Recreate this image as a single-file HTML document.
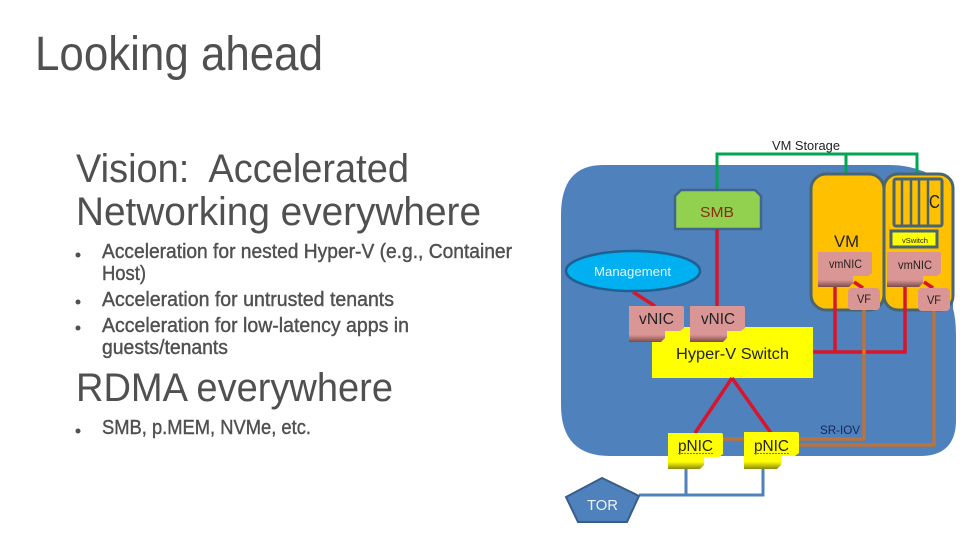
<!DOCTYPE html>
<html>
<head>
<meta charset="utf-8">
<style>
html,body{margin:0;padding:0;background:#fff;width:979px;height:551px;overflow:hidden}
svg{display:block}
text{font-family:"Liberation Sans",sans-serif}
.h{fill:#505050}
.b{fill:#505050;font-size:20px;stroke:#505050;stroke-width:.4}
.d{fill:#222}
</style>
</head>
<body>
<svg width="979" height="551" viewBox="0 0 979 551" xmlns="http://www.w3.org/2000/svg">
<defs>
<linearGradient id="pk" x1="0" y1="0" x2="0" y2="1">
<stop offset="0" stop-color="#d99694"/><stop offset=".8" stop-color="#d99694"/><stop offset="1" stop-color="#7d4a48"/>
</linearGradient>
<linearGradient id="yl" x1="0" y1="0" x2="0" y2="1">
<stop offset="0" stop-color="#ffff00"/><stop offset=".8" stop-color="#ffff00"/><stop offset="1" stop-color="#8a8a10"/>
</linearGradient>
</defs>

<!-- left text -->
<text class="h" x="35" y="70" font-size="48" textLength="288" lengthAdjust="spacingAndGlyphs">Looking ahead</text>
<text class="h" x="76" y="182" font-size="40" textLength="333" lengthAdjust="spacingAndGlyphs" xml:space="preserve">Vision:  Accelerated</text>
<text class="h" x="76" y="225" font-size="40" textLength="405" lengthAdjust="spacingAndGlyphs">Networking everywhere</text>
<text class="b" x="102" y="258" textLength="410" lengthAdjust="spacingAndGlyphs">Acceleration for nested Hyper-V (e.g., Container</text>
<text class="b" x="102" y="280" textLength="44" lengthAdjust="spacingAndGlyphs">Host)</text>
<text class="b" x="102" y="306" textLength="292" lengthAdjust="spacingAndGlyphs">Acceleration for untrusted tenants</text>
<text class="b" x="102" y="332" textLength="307" lengthAdjust="spacingAndGlyphs">Acceleration for low-latency apps in</text>
<text class="b" x="102" y="354" textLength="126" lengthAdjust="spacingAndGlyphs">guests/tenants</text>
<text class="h" x="76" y="401" font-size="40" textLength="317" lengthAdjust="spacingAndGlyphs">RDMA everywhere</text>
<text class="b" x="102" y="434" textLength="209" lengthAdjust="spacingAndGlyphs">SMB, p.MEM, NVMe, etc.</text>
<circle cx="78" cy="255" r="2.5" fill="#505050"/>
<circle cx="78" cy="302" r="2.5" fill="#505050"/>
<circle cx="78" cy="328" r="2.5" fill="#505050"/>
<circle cx="78" cy="431" r="2.5" fill="#505050"/>

<!-- host background -->
<path d="M603,165 H890 Q925,165 953,190 V308 Q956,320 956,335 V420 Q956,456 920,456 H610 Q561,456 561,405 V215 Q561,165 603,165 Z" fill="#4f81bd"/>

<!-- green links -->
<g fill="none" stroke="#00a651" stroke-width="3">
<path d="M717,190 V154 H917 V173"/>
<path d="M846,154 V173"/>
</g>
<text class="d" x="772" y="150" font-size="13" textLength="68" lengthAdjust="spacingAndGlyphs">VM Storage</text>

<!-- VM and container -->
<rect x="811" y="174" width="73" height="136" rx="15" fill="#ffc000" stroke="#4a6572" stroke-width="3"/>
<rect x="884" y="174" width="69" height="136" rx="14" fill="#ffc000" stroke="#4a6572" stroke-width="3"/>
<rect x="894" y="179" width="48" height="47" rx="2" fill="#ffc000" stroke="#4a6572" stroke-width="3"/>
<path d="M902,179 V226 M911,179 V226 M919,179 V226 M928,179 V226" stroke="#4a6572" stroke-width="2.500"/>
<text class="d" x="929" y="208" font-size="18" textLength="11" lengthAdjust="spacingAndGlyphs">C</text>
<rect x="891" y="231" width="46" height="16" fill="#ffff00" stroke="#4a6572" stroke-width="3"/>
<text class="d" x="902" y="243" font-size="7.5" textLength="26" lengthAdjust="spacingAndGlyphs">vSwitch</text>
<text class="d" x="834" y="247" font-size="17" textLength="25" lengthAdjust="spacingAndGlyphs">VM</text>

<!-- SMB -->
<path d="M675,229 V196 L681,190 H755 L761,196 V229 Z" fill="#92d050" stroke="#41668c" stroke-width="2.500"/>
<text x="700" y="217" font-size="15" fill="#8a3010" textLength="34" lengthAdjust="spacingAndGlyphs">SMB</text>

<!-- Management -->
<ellipse cx="633" cy="271" rx="67" ry="20" fill="#00b0f0" stroke="#1f5f92" stroke-width="2.500"/>
<text x="594" y="276" font-size="13" fill="#e8f4fa" textLength="77" lengthAdjust="spacingAndGlyphs">Management</text>

<!-- red lines -->
<g fill="none" stroke="#d8152a" stroke-width="3.500">
<path d="M717,229 V307"/>
<path d="M633,292 L655,306"/>
<path d="M835,287 V352"/>
<path d="M905,287 V352"/>
<path d="M813,352 H906.700"/>
<path d="M854,282 L863,288"/>
<path d="M924,282 L933,288"/>
</g>

<!-- brown / SR-IOV lines -->
<g fill="none" stroke="#b8733f" stroke-width="3.500">
<path d="M864,310 V439 H798"/>
<path d="M934,310 V445 H798"/>
<path d="M722,439 H745"/>
</g>
<path d="M862.500,350.300 h3 v3.400 h-3z" fill="#f08020"/>

<!-- Hyper-V switch -->
<rect x="652" y="327" width="161" height="51" fill="#ffff00"/>
<text class="d" x="676" y="359" font-size="16" textLength="113" lengthAdjust="spacingAndGlyphs">Hyper-V Switch</text>
<path d="M732,378 L695,433 M732,378 L771,433" fill="none" stroke="#d8152a" stroke-width="3.500"/>

<!-- vNICs -->
<path d="M629,306 H682 Q684,306 684,308 V328 L680,331 H665 V338 L661,342 H629 Z" fill="url(#pk)"/>
<path d="M690,306 H743 Q745,306 745,308 V328 L741,331 H727 V338 L723,342 H690 Z" fill="url(#pk)"/>
<text class="d" x="639" y="324" font-size="16" textLength="35" lengthAdjust="spacingAndGlyphs">vNIC</text>
<text class="d" x="701" y="324" font-size="16" textLength="34" lengthAdjust="spacingAndGlyphs">vNIC</text>

<!-- vmNICs -->
<path d="M818,252 H870 Q872,252 872,254 V273 L868,276 H853 V283 L849,287 H818 Z" fill="url(#pk)"/>
<path d="M887,252 H939 Q941,252 941,254 V273 L937,276 H923 V283 L919,287 H887 Z" fill="url(#pk)"/>
<text class="d" x="829" y="268" font-size="12" textLength="33" lengthAdjust="spacingAndGlyphs">vmNIC</text>
<text class="d" x="898" y="269" font-size="12" textLength="34" lengthAdjust="spacingAndGlyphs">vmNIC</text>

<!-- VFs -->
<rect x="848" y="288" width="32" height="22" rx="4" fill="#d99694"/>
<rect x="918" y="288" width="32" height="23" rx="4" fill="#d99694"/>
<text class="d" x="857" y="303" font-size="12" textLength="14" lengthAdjust="spacingAndGlyphs">VF</text>
<text class="d" x="927" y="304" font-size="12" textLength="14" lengthAdjust="spacingAndGlyphs">VF</text>

<!-- SR-IOV label -->
<text x="820" y="434" font-size="12" fill="#14285a" textLength="40" lengthAdjust="spacingAndGlyphs">SR-IOV</text>

<!-- TOR links -->
<g fill="none" stroke="#4f81bd" stroke-width="3">
<path d="M639,495 H763 V468"/>
<path d="M686,468 V495"/>
</g>

<!-- pNICs -->
<path d="M668,433 H721 Q723,433 723,435 V454 L719,457 H704 V465 L700,469 H668 Z" fill="url(#yl)"/>
<path d="M744,432 H797 Q799,432 799,434 V453 L795,456 H781 V465 L777,469 H744 Z" fill="url(#yl)"/>
<text class="d" x="678" y="451" font-size="16" textLength="35" lengthAdjust="spacingAndGlyphs">pNIC</text>
<text class="d" x="754" y="451" font-size="16" textLength="35" lengthAdjust="spacingAndGlyphs">pNIC</text>
<path d="M678,453.500 H713 M754,453.500 H789" stroke="#d84040" stroke-width="1" stroke-dasharray="2 1"/>

<!-- TOR -->
<path d="M602,478 L639,496 L627,522 H578 L566,497 Z" fill="#4f81bd" stroke="#385d8a" stroke-width="2"/>
<text x="587" y="510" font-size="15" fill="#eef3f8" textLength="31" lengthAdjust="spacingAndGlyphs">TOR</text>
</svg>
</body>
</html>
